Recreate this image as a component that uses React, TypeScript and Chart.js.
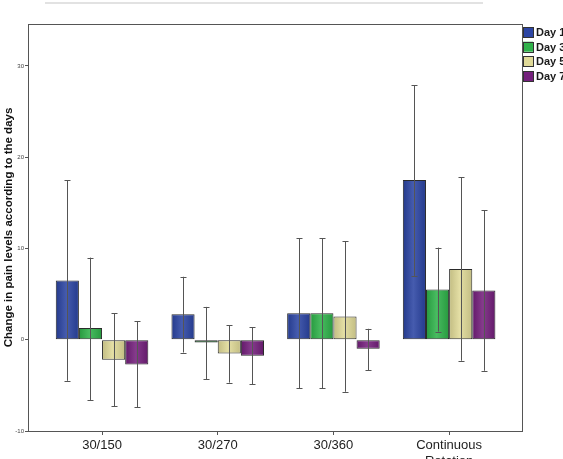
import React, { useEffect, useRef } from "react";
import { Chart, registerables } from "chart.js";
Chart.register(...registerables);

const categories: string[][] = [["30/150"], ["30/270"], ["30/360"], ["Continuous", "Rotation"]];
const seriesNames = ["Day 1", "Day 3", "Day 5", "Day 7"];
const day1 = [6.5, 2.8, 2.9, 17.5];
const day3 = [1.3, -0.3, 2.9, 5.5];
const day5 = [-2.2, -1.5, 2.55, 7.75];
const day7 = [-2.7, -1.75, -1.0, 5.4];
const day1Low = [-4.5, -1.4, -5.3, 7.0];
const day1High = [17.5, 6.9, 11.1, 27.9];
const day3Low = [-6.6, -4.3, -5.3, 0.9];
const day3High = [9.0, 3.6, 11.1, 10.1];
const day5Low = [-7.3, -4.7, -5.7, -2.3];
const day5High = [2.9, 1.6, 10.8, 17.8];
const day7Low = [-7.4, -4.9, -3.35, -3.4];
const day7High = [2.0, 1.35, 1.2, 14.2];
const yTicks = [-10, 0, 10, 20, 30];
const colors = ["#2c45a3", "#2fb24a", "#e0da98", "#74207c"];

const values = [day1, day3, day5, day7];
const lows = [day1Low, day3Low, day5Low, day7Low];
const highs = [day1High, day3High, day5High, day7High];
const FAMILY = "'Liberation Sans', Arial, sans-serif";

const decorPlugin = {
  id: "decor",
  afterDatasetsDraw(chart: any) {
    const ctx = chart.ctx;
    const y = chart.scales.y;
    ctx.save();
    chart.data.datasets.forEach((_: any, di: number) => {
      const meta = chart.getDatasetMeta(di);
      meta.data.forEach((bar: any) => {
        const left = bar.x - bar.width / 2 + 1;
        const right = bar.x + bar.width / 2 - 1;
        const top = Math.min(bar.y, bar.base) + 1;
        const bottom = Math.max(bar.y, bar.base) - 1;
        if (bottom - top < 1) return;
        const g = ctx.createLinearGradient(left, 0, right, 0);
        g.addColorStop(0, "rgba(0,0,0,0.12)");
        g.addColorStop(0.45, "rgba(255,255,255,0.12)");
        g.addColorStop(1, "rgba(0,0,0,0.12)");
        ctx.fillStyle = g;
        ctx.fillRect(left, top, right - left, bottom - top);
      });
    });
    ctx.strokeStyle = "#555";
    ctx.lineWidth = 1;
    chart.data.datasets.forEach((_: any, di: number) => {
      const meta = chart.getDatasetMeta(di);
      meta.data.forEach((bar: any, i: number) => {
        const x = Math.round(bar.x) + 0.5;
        const yl = y.getPixelForValue(lows[di][i]);
        const yh = y.getPixelForValue(highs[di][i]);
        ctx.beginPath();
        ctx.moveTo(x, yl);
        ctx.lineTo(x, yh);
        ctx.moveTo(x - 3, Math.round(yl) + 0.5);
        ctx.lineTo(x + 3, Math.round(yl) + 0.5);
        ctx.moveTo(x - 3, Math.round(yh) + 0.5);
        ctx.lineTo(x + 3, Math.round(yh) + 0.5);
        ctx.stroke();
      });
    });
    ctx.restore();
  },
  afterDraw(chart: any) {
    const ctx = chart.ctx;
    const a = chart.chartArea;
    ctx.save();
    ctx.strokeStyle = "#e2e2e2";
    ctx.lineWidth = 2;
    ctx.beginPath();
    ctx.moveTo(45, 3);
    ctx.lineTo(483, 3);
    ctx.stroke();
    ctx.strokeStyle = "#555";
    ctx.lineWidth = 1;
    ctx.strokeRect(Math.round(a.left) + 0.5, Math.round(a.top) + 0.5, Math.round(a.right - a.left), Math.round(a.bottom - a.top));
    ctx.font = "bold 11px " + FAMILY;
    ctx.textBaseline = "middle";
    ctx.textAlign = "left";
    seriesNames.forEach((name, i) => {
      const yy = a.top + 3 + i * 14.7;
      const xx = a.right + 1;
      ctx.fillStyle = colors[i];
      ctx.fillRect(xx, yy, 10, 10);
      ctx.strokeStyle = "#333";
      ctx.strokeRect(xx + 0.5, Math.round(yy) + 0.5, 10, 10);
      ctx.fillStyle = "#1a1a1a";
      ctx.fillText(name, xx + 13, yy + 6);
    });
    ctx.restore();
  },
};

export default function App() {
  const ref = useRef<HTMLCanvasElement | null>(null);
  useEffect(() => {
    if (!ref.current) return;
    const chart = new Chart(ref.current, {
      type: "bar",
      data: {
        datasets: seriesNames.map((name, i) => ({
          label: name,
          data: values[i].map((v, j) => ({ x: j, y: v })),
          backgroundColor: colors[i],
          borderColor: "#2a2a2a",
          borderWidth: 1,
          borderSkipped: false,
          categoryPercentage: 0.8,
          barPercentage: 1,
        })),
      },
      options: {
        responsive: false,
        animation: false,
        layout: { padding: { top: 24, right: 41, left: 0, bottom: 0 } },
        plugins: { legend: { display: false }, tooltip: { enabled: false } },
        scales: {
          x: {
            type: "linear",
            min: -0.64,
            max: 3.63,
            offset: false,
            grid: { display: true, drawOnChartArea: false, tickLength: 4, color: "#555", offset: false },
            border: { display: false },
            afterBuildTicks: (s: any) => {
              s.ticks = categories.map((_, i) => ({ value: i }));
            },
            afterFit: (s: any) => {
              s.height = 28;
            },
            ticks: {
              callback: (v: any) => categories[v as number],
              font: { size: 13, family: FAMILY },
              color: "#222",
              padding: 3,
              maxRotation: 0,
              autoSkip: false,
            },
          },
          y: {
            min: -10,
            max: 34.6,
            afterBuildTicks: (s: any) => {
              s.ticks = yTicks.map((v) => ({ value: v }));
            },
            afterFit: (s: any) => {
              s.width = 28;
            },
            grid: { drawOnChartArea: false, tickLength: 3, color: "#555" },
            border: { display: false },
            ticks: { font: { size: 6, family: FAMILY }, color: "#444", padding: 1 },
            title: {
              display: true,
              text: "Change in pain levels according to the days",
              font: { size: 11.5, weight: "bold", family: FAMILY },
              color: "#111",
              padding: { top: 1.5, bottom: 0 },
            },
          },
        },
      } as any,
      plugins: [decorPlugin],
    });
    return () => chart.destroy();
  }, []);
  return (
    <div style={{ position: "absolute", left: 0, top: 0, width: 563, height: 459, background: "#fff" }}>
      <canvas ref={ref} width={563} height={459} style={{ display: "block" }} />
    </div>
  );
}
